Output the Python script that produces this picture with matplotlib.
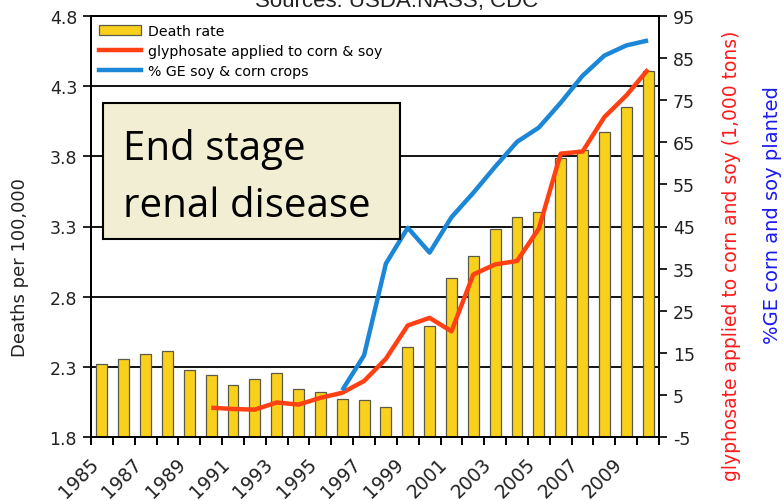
import matplotlib
matplotlib.use("Agg")
import matplotlib.pyplot as plt
from matplotlib.patches import Rectangle, Patch
from matplotlib.lines import Line2D
import numpy as np

years = list(range(1985, 2011))
death_rate = [2.32, 2.355, 2.395, 2.41, 2.28, 2.24, 2.17, 2.215, 2.255, 2.14,
              2.12, 2.07, 2.065, 2.015, 2.44, 2.59, 2.935, 3.09, 3.28, 3.365,
              3.40, 3.79, 3.845, 3.975, 4.155, 4.41]
glyph_years = list(range(1990, 2011))
glyphosate = [1.96, 1.65, 1.5, 3.2, 2.7, 4.3, 5.5, 8.3, 13.6, 21.5, 23.3, 20.1,
              33.6, 36.0, 36.8, 44.5, 62.3, 62.8, 71.0, 76.1, 82.3]
ge_years = list(range(1996, 2011))
ge_pct = [6.1, 14.4, 36.2, 44.7, 38.8, 47.2, 53.0, 59.2, 65.1, 68.5, 74.4,
          80.8, 85.6, 88.0, 89.2]
left_ticks = [1.8, 2.3, 2.8, 3.3, 3.8, 4.3, 4.8]
right_ticks = [-5, 5, 15, 25, 35, 45, 55, 65, 75, 85, 95]
label_years = list(range(1985, 2010, 2))

plt.rcParams['font.family'] = ['DejaVu Sans']
plt.rcParams['axes.unicode_minus'] = False

W, H = 784, 502
fig = plt.figure(figsize=(W / 100, H / 100), dpi=100)
ax = fig.add_axes([91 / W, 1 - 438 / H, (659 - 91) / W, (438 - 17) / H])

x = np.arange(len(years))
ax.bar(x, death_rate, width=0.5, color='#F9D11C', edgecolor='#5a5a4a',
       linewidth=0.9, zorder=2)
ax.set_xlim(-0.5, len(years) - 0.5)
ax.set_ylim(1.8, 4.8)
ax.set_yticks(left_ticks)
ax.set_yticklabels([f"{v:.1f}" for v in left_ticks])
ax.yaxis.grid(True, color='black', linewidth=1.3)
ax.set_axisbelow(True)
ax.tick_params(axis='y', direction='out', length=6, width=1.4, pad=4,
               labelsize=12.5, colors='#222222')

# x ticks
ax.set_xticks(np.arange(-0.5, len(years)), minor=True)
lab_idx = [years.index(y) for y in label_years]
ax.set_xticks(lab_idx)
ax.set_xticklabels([str(y) for y in label_years], rotation=45, ha='right')
ax.tick_params(axis='x', which='major', length=0, pad=12, labelsize=13.5,
               colors='#222222')
ax.tick_params(axis='x', which='minor', direction='out', length=6, width=1.4)
for s in ax.spines.values():
    s.set_linewidth(1.4)
    s.set_color('black')

ax2 = ax.twinx()
ax2.set_ylim(-5, 95)
ax2.set_yticks(right_ticks)
ax2.tick_params(axis='y', direction='out', length=6, width=1.4, pad=4,
                labelsize=12.5, colors='#222222')
for s in ax2.spines.values():
    s.set_linewidth(1.4)
gx = [years.index(y) for y in glyph_years]
ex = [years.index(y) for y in ge_years]
ax2.plot(gx, glyphosate, color='#FF4013', linewidth=3.2, solid_capstyle='butt', zorder=3)
ax2.plot(ex, ge_pct, color='#1B87D6', linewidth=3.2, solid_capstyle='butt', zorder=3)

handles = [Patch(facecolor='#F9D11C', edgecolor='#5a5a4a', linewidth=0.9),
           Line2D([], [], color='#FF4013', linewidth=3.2),
           Line2D([], [], color='#1B87D6', linewidth=3.2)]
ax2.legend(handles, ['Death rate', 'glyphosate applied to corn & soy',
                     '% GE soy & corn crops'],
           loc='upper left', bbox_to_anchor=(0.0, 1.0), frameon=False,
           fontsize=10.2, handlelength=3.0, handletextpad=0.5,
           labelspacing=0.42, borderpad=0.55, borderaxespad=0.0)

# text box
rx0, ry0, rx1, ry1 = 102.7, 104.3, 400, 240
fig.add_artist(Rectangle((rx0 / W, 1 - ry1 / H), (rx1 - rx0) / W, (ry1 - ry0) / H,
                         transform=fig.transFigure, facecolor='#F2EED3',
                         edgecolor='black', linewidth=1.5, zorder=5))
fig.text(123 / W, 1 - 160 / H, 'End stage', fontsize=29, family=['Open Sans', 'DejaVu Sans'],
         va='baseline', ha='left', zorder=6)
fig.text(123 / W, 1 - 216.7 / H, 'renal disease', fontsize=29, family=['Open Sans', 'DejaVu Sans'],
         va='baseline', ha='left', zorder=6)

fig.text(397 / W, 1 - 7 / H, 'Sources: USDA:NASS, CDC', fontsize=16,
         family=['Liberation Sans', 'DejaVu Sans'],
         ha='center', va='baseline', color='#222222')
fig.text(20 / W, 1 - 268 / H, 'Deaths per 100,000', rotation=90, fontsize=13,
         ha='center', va='center', color='#222222')
fig.text(731.7 / W, 1 - 256 / H, 'glyphosate applied to corn and soy (1,000 tons)',
         rotation=90, fontsize=13.5, ha='center', va='center', color='#FF1A1A')
fig.text(772.5 / W, 1 - 215 / H, '%GE corn and soy planted', rotation=90,
         fontsize=14, ha='center', va='center', color='#1A1AF0')

fig.savefig('out.png', dpi=100)
